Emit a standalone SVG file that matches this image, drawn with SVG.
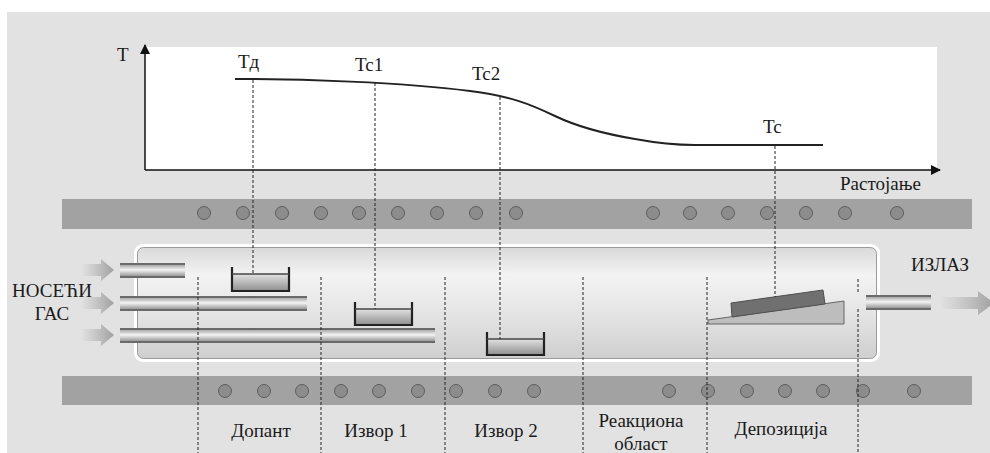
<svg xmlns="http://www.w3.org/2000/svg" width="990" height="453" viewBox="0 0 990 453">
  <defs>
    <linearGradient id="tubeFill" x1="0" y1="0" x2="0" y2="1">
      <stop offset="0" stop-color="#d9d9d9"/>
      <stop offset="0.25" stop-color="#f3f3f3"/>
      <stop offset="0.6" stop-color="#e4e4e4"/>
      <stop offset="1" stop-color="#cfcfcf"/>
    </linearGradient>
    <linearGradient id="pipeFill" x1="0" y1="0" x2="0" y2="1">
      <stop offset="0" stop-color="#9a9a9a"/>
      <stop offset="0.45" stop-color="#f4f4f4"/>
      <stop offset="1" stop-color="#8a8a8a"/>
    </linearGradient>
    <linearGradient id="boatFill" x1="0" y1="0" x2="0" y2="1">
      <stop offset="0" stop-color="#e2e2e2"/>
      <stop offset="1" stop-color="#8e8e8e"/>
    </linearGradient>
    <linearGradient id="arrowFill" x1="0" y1="0" x2="1" y2="0">
      <stop offset="0" stop-color="#a8a8a8" stop-opacity="0"/>
      <stop offset="1" stop-color="#a0a0a0"/>
    </linearGradient>
    <marker id="axisHead" viewBox="0 0 10 10" refX="9" refY="5" markerWidth="10" markerHeight="10" markerUnits="userSpaceOnUse" orient="auto">
      <path d="M0,0 L10,5 L0,10 z" fill="#111"/>
    </marker>
    <path id="flowArrow" d="M0,-6 L20,-6 L20,-11 L33,0 L20,11 L20,6 L0,6 z" fill="url(#arrowFill)"/>
    <style>
      .lbl { font-family: "Liberation Serif", "Times New Roman", serif; font-size: 19px; fill: #1a1a1a; }
      .heater { fill: #a2a2a2; }
      .coil { fill: #8c8c8c; stroke: #5e5e5e; stroke-width: 1; }
      .guide { stroke: #222; stroke-width: 1; stroke-dasharray: 3 2; fill: none; }
      .pipeEdge { stroke: #6a6a6a; stroke-width: 2; }
      .boat { fill: none; stroke: #222; stroke-width: 2.2; }
    </style>
  </defs>

  <!-- panel backgrounds -->
  <rect x="0" y="0" width="990" height="453" fill="#ffffff"/>
  <rect x="7" y="12" width="983" height="441" fill="#e2e2e2"/>
  <rect x="145" y="47" width="792" height="123" fill="#ffffff"/>

  <!-- upper heater row -->
  <g id="heater-top">
    <rect class="heater" x="62" y="199" width="910" height="30"/>
    <g class="coil">
      <circle cx="204" cy="213" r="6.5"/>
      <circle cx="243" cy="213" r="6.5"/>
      <circle cx="282" cy="213" r="6.5"/>
      <circle cx="321" cy="213" r="6.5"/>
      <circle cx="359" cy="213" r="6.5"/>
      <circle cx="398" cy="213" r="6.5"/>
      <circle cx="437" cy="213" r="6.5"/>
      <circle cx="476" cy="213" r="6.5"/>
      <circle cx="516" cy="213" r="6.5"/>
      <circle cx="653" cy="213" r="6.5"/>
      <circle cx="690" cy="213" r="6.5"/>
      <circle cx="728" cy="213" r="6.5"/>
      <circle cx="767" cy="213" r="6.5"/>
      <circle cx="806" cy="213" r="6.5"/>
      <circle cx="845" cy="213" r="6.5"/>
      <circle cx="897" cy="213" r="6.5"/>
    </g>
  </g>

  <!-- lower heater row -->
  <g id="heater-bottom">
    <rect class="heater" x="62" y="376" width="910" height="29"/>
    <g class="coil">
      <circle cx="225" cy="391" r="6.5"/>
      <circle cx="264" cy="391" r="6.5"/>
      <circle cx="302" cy="391" r="6.5"/>
      <circle cx="341" cy="391" r="6.5"/>
      <circle cx="379" cy="391" r="6.5"/>
      <circle cx="418" cy="391" r="6.5"/>
      <circle cx="456" cy="391" r="6.5"/>
      <circle cx="495" cy="391" r="6.5"/>
      <circle cx="534" cy="391" r="6.5"/>
      <circle cx="669" cy="391" r="6.5"/>
      <circle cx="708" cy="391" r="6.5"/>
      <circle cx="747" cy="391" r="6.5"/>
      <circle cx="785" cy="391" r="6.5"/>
      <circle cx="823" cy="391" r="6.5"/>
      <circle cx="863" cy="391" r="6.5"/>
      <circle cx="914" cy="391" r="6.5"/>
    </g>
  </g>

  <!-- reactor tube -->
  <g id="tube">
    <rect x="134" y="244" width="746" height="118" rx="9" fill="#ffffff"/>
    <rect x="137.5" y="247.5" width="739" height="111" rx="6" fill="url(#tubeFill)" stroke="#9a9a9a" stroke-width="1"/>
  </g>

  <!-- carrier gas inlets -->
  <g id="inlets">
    <use href="#flowArrow" x="81" y="270"/>
    <use href="#flowArrow" x="81" y="303"/>
    <use href="#flowArrow" x="81" y="335"/>
    <rect x="120" y="264" width="65" height="13" fill="url(#pipeFill)"/>
    <line class="pipeEdge" x1="120" y1="264" x2="185" y2="264"/>
    <line class="pipeEdge" x1="120" y1="277" x2="185" y2="277"/>
    <rect x="120" y="297" width="187" height="13" fill="url(#pipeFill)"/>
    <line class="pipeEdge" x1="120" y1="297" x2="307" y2="297"/>
    <line class="pipeEdge" x1="120" y1="310" x2="307" y2="310"/>
    <rect x="120" y="329" width="315" height="13" fill="url(#pipeFill)"/>
    <line class="pipeEdge" x1="120" y1="329" x2="435" y2="329"/>
    <line class="pipeEdge" x1="120" y1="342" x2="435" y2="342"/>
    <text class="lbl" x="52" y="297" text-anchor="middle">НОСЕЋИ</text>
    <text class="lbl" x="52" y="320" text-anchor="middle">ГАС</text>
  </g>

  <!-- source boats -->
  <g id="boat-dopant">
    <rect x="232" y="274" width="57" height="17" fill="url(#boatFill)"/>
    <path class="boat" d="M232,267 V291 H289 V267"/>
    <line x1="232" y1="274" x2="289" y2="274" stroke="#444" stroke-width="1.5"/>
  </g>
  <g id="boat-source1">
    <rect x="355" y="309" width="57" height="16" fill="url(#boatFill)"/>
    <path class="boat" d="M355,302 V325 H412 V302"/>
    <line x1="355" y1="309" x2="412" y2="309" stroke="#444" stroke-width="1.5"/>
  </g>
  <g id="boat-source2">
    <rect x="487" y="339" width="57" height="16" fill="url(#boatFill)"/>
    <path class="boat" d="M487,332 V355 H544 V332"/>
    <line x1="487" y1="339" x2="544" y2="339" stroke="#444" stroke-width="1.5"/>
  </g>

  <!-- substrate on inclined holder -->
  <g id="substrate">
    <polygon points="708,320 844,301 844,324 708,324" fill="#bdbdbd" stroke="#666" stroke-width="1"/>
    <polygon points="731,303 823,290 825,304 732,317" fill="#707070" stroke="#505050" stroke-width="1"/>
  </g>

  <!-- exhaust -->
  <g id="outlet">
    <rect x="866" y="296" width="65" height="13" fill="url(#pipeFill)"/>
    <line class="pipeEdge" x1="866" y1="296" x2="931" y2="296"/>
    <line class="pipeEdge" x1="866" y1="309" x2="931" y2="309"/>
    <path d="M940,297 L978,297 L978,291 L994,303 L978,315 L978,309 L940,309 z" fill="url(#arrowFill)"/>
    <text class="lbl" x="911" y="271">ИЗЛАЗ</text>
  </g>

  <!-- temperature profile chart -->
  <g id="chart">
    <line x1="145" y1="170" x2="145" y2="45" stroke="#111" stroke-width="1.5" marker-end="url(#axisHead)"/>
    <line x1="145" y1="170" x2="940" y2="170" stroke="#111" stroke-width="1.5" marker-end="url(#axisHead)"/>
    <path d="M235,79 C300,79 400,82 470,91 C510,96 530,104 555,116 C580,128 605,134 635,139 C662,144 675,145 695,145 L823,145" fill="none" stroke="#222" stroke-width="2"/>
    <text class="lbl" x="117" y="61">T</text>
    <text class="lbl" x="238" y="68">Tд</text>
    <text class="lbl" x="355" y="71">Tc1</text>
    <text class="lbl" x="472" y="80">Tc2</text>
    <text class="lbl" x="763" y="133">Tc</text>
    <text class="lbl" x="840" y="190">Растојање</text>
  </g>

  <!-- projection and zone lines -->
  <g id="connectors">
    <line class="guide" x1="253" y1="80" x2="253" y2="274"/>
    <line class="guide" x1="375" y1="83" x2="375" y2="309"/>
    <line class="guide" x1="500" y1="97" x2="500" y2="339"/>
    <line class="guide" x1="775" y1="146" x2="775" y2="297"/>
    <line class="guide" x1="198" y1="277" x2="198" y2="453"/>
    <line class="guide" x1="321" y1="277" x2="321" y2="453"/>
    <line class="guide" x1="445" y1="277" x2="445" y2="453"/>
    <line class="guide" x1="583" y1="277" x2="583" y2="453"/>
    <line class="guide" x1="707" y1="277" x2="707" y2="453"/>
    <line class="guide" x1="858" y1="279" x2="858" y2="292"/>
    <line class="guide" x1="858" y1="309" x2="858" y2="453"/>
  </g>

  <!-- zone labels -->
  <g id="zones">
    <text class="lbl" x="261" y="437" text-anchor="middle">Допант</text>
    <text class="lbl" x="376" y="437" text-anchor="middle">Извор 1</text>
    <text class="lbl" x="506" y="437" text-anchor="middle">Извор 2</text>
    <text class="lbl" x="641" y="427" text-anchor="middle">Реакциона</text>
    <text class="lbl" x="641" y="450" text-anchor="middle">област</text>
    <text class="lbl" x="781" y="435" text-anchor="middle">Депозиција</text>
  </g>
</svg>
